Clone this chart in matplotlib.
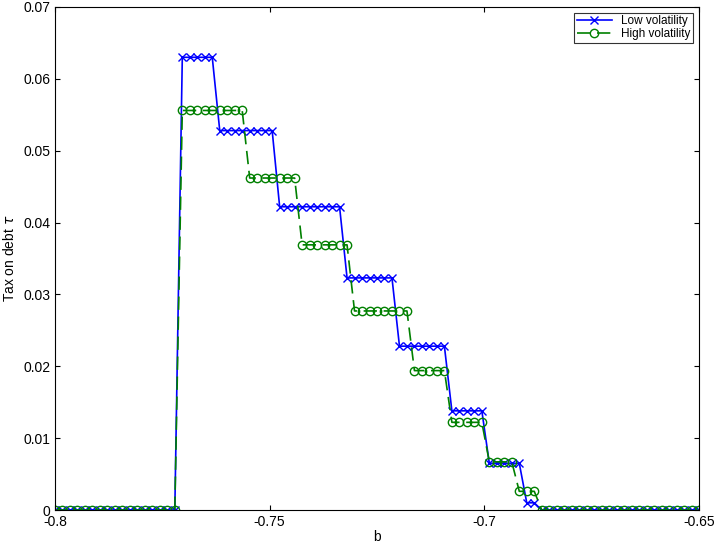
import numpy as np
import matplotlib.pyplot as plt

b = np.linspace(-0.8, -0.65, 87)

low_levels = [0, 0.0630, 0.0528, 0.0422, 0.0323, 0.0228, 0.0138, 0.0065, 0.0010, 0]
low_counts = [17, 5, 8, 9, 7, 7, 5, 5, 2, 22]
high_levels = [0, 0.0556, 0.0462, 0.0369, 0.0277, 0.0194, 0.0122, 0.0067, 0.0026, 0]
high_counts = [17, 9, 7, 7, 8, 5, 5, 4, 3, 22]

tau_low = np.repeat(low_levels, low_counts)
tau_high = np.repeat(high_levels, high_counts)

plt.rcParams['font.family'] = 'Liberation Sans'
fig = plt.figure(figsize=(7.17, 5.47), dpi=100)
ax = fig.add_axes([55/717, 1 - 510/547, 644/717, 503/547])

ax.plot(b, tau_low, '-x', color='blue', label='Low volatility', linewidth=1.2, markersize=6, markeredgewidth=1)
ax.plot(b, tau_high, '--o', color='green', label='High volatility', linewidth=1.2, markersize=6,
        markerfacecolor='none', dashes=(8, 4))

ax.set_xlim(-0.8, -0.65)
ax.set_ylim(0, 0.07)
ax.set_xticks([-0.8, -0.75, -0.7, -0.65])
ax.set_xticklabels(['-0.8', '-0.75', '-0.7', '-0.65'])
ax.set_yticks(np.arange(0, 0.071, 0.01))
ax.set_yticklabels(['0', '0.01', '0.02', '0.03', '0.04', '0.05', '0.06', '0.07'])
ax.tick_params(direction='in', top=True, right=True, labelsize=10)
ax.set_xlabel('b', fontsize=10, labelpad=1)
ax.set_ylabel(r'Tax on debt $\tau$', fontsize=10)
leg = ax.legend(loc='upper right', fontsize=8.5, fancybox=False, edgecolor='black',
                borderpad=0.2, labelspacing=0.1, handlelength=3)
leg.get_frame().set_linewidth(0.8)

plt.savefig('out.png')
